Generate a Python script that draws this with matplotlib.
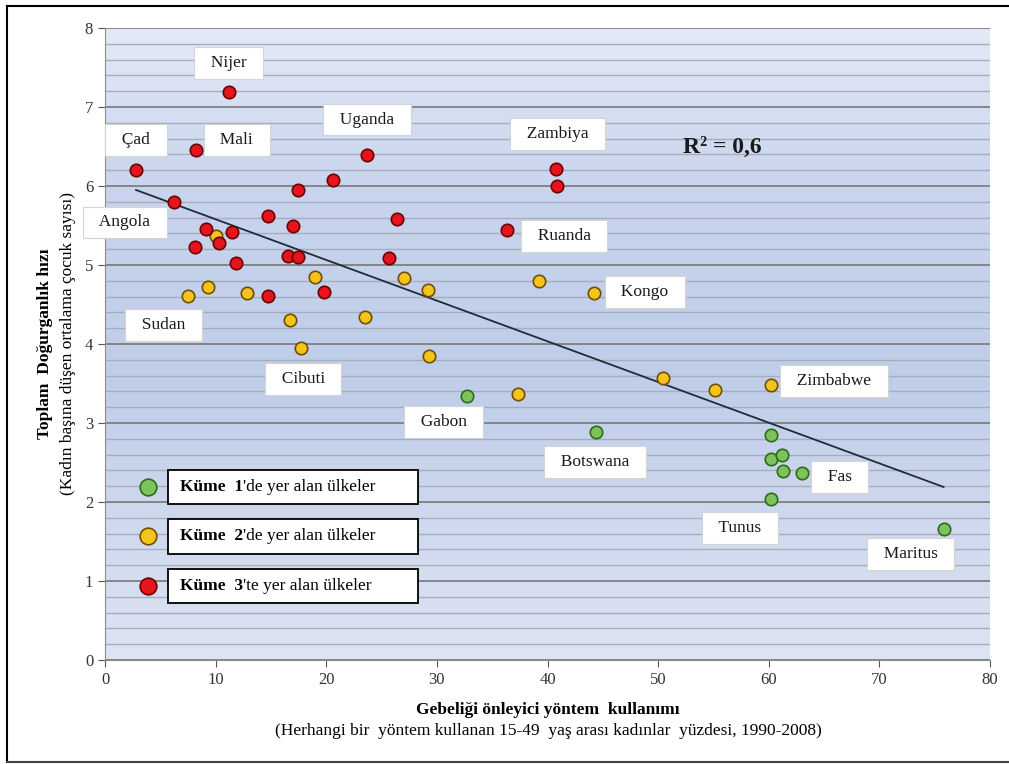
import numpy as np
import matplotlib.pyplot as plt
from matplotlib.colors import LinearSegmentedColormap
from matplotlib.patches import Rectangle
from matplotlib.lines import Line2D

plt.rcParams['font.family'] = ['Liberation Serif', 'DejaVu Serif']

# contraceptive use (%) and total fertility rate, per cluster
kume1_x = [32.7, 44.4, 60.2, 60.2, 61.2, 61.3, 63.0, 60.2, 75.8]
kume1_y = [3.34, 2.89, 2.85, 2.54, 2.59, 2.39, 2.37, 2.04, 1.66]

kume2_x = [7.5, 9.3, 10.0, 12.8, 16.7, 17.7, 19.0, 23.5, 27.0, 29.2, 29.3,
           37.3, 39.2, 44.2, 50.4, 55.1, 60.2]
kume2_y = [4.61, 4.72, 5.37, 4.65, 4.30, 3.95, 4.85, 4.34, 4.84, 4.68, 3.85,
           3.37, 4.80, 4.65, 3.57, 3.42, 3.48]

kume3_x = [2.8, 6.2, 8.2, 11.2, 8.1, 9.1, 10.3, 11.5, 11.8, 14.7, 14.7, 16.5,
           17.0, 17.4, 17.4, 19.8, 20.6, 23.7, 25.7, 26.4, 36.3, 40.8, 40.9]
kume3_y = [6.20, 5.80, 6.46, 7.19, 5.23, 5.46, 5.28, 5.42, 5.03, 4.61, 5.62, 5.11,
           5.49, 5.95, 5.10, 4.66, 6.08, 6.39, 5.09, 5.58, 5.44, 6.22, 6.00]

countries = ['Nijer', 'Çad', 'Mali', 'Uganda', 'Zambiya', 'Angola', 'Ruanda',
             'Kongo', 'Sudan', 'Cibuti', 'Gabon', 'Botswana', 'Zimbabwe',
             'Fas', 'Tunus', 'Maritus']
legend_labels = ["1'de yer alan ülkeler", "2'de yer alan ülkeler", "3'te yer alan ülkeler"]
r2_text = 'R² = 0,6'

# where each country name box sits
label_pos = [(11.2, 7.56), (2.8, 6.58), (11.9, 6.58), (23.7, 6.84), (40.9, 6.66),
             (1.8, 5.54), (41.5, 5.37), (48.8, 4.66), (5.3, 4.24), (17.9, 3.56),
             (30.6, 3.01), (44.3, 2.51), (65.9, 3.53), (66.4, 2.32), (57.4, 1.67),
             (72.8, 1.34)]

styles = [('#7dc35b', '#2f6a1c'), ('#f6c21c', '#6e5000'), ('#e4151d', '#6e0000')]

fig = plt.figure(figsize=(10.09, 7.64), dpi=100)
ax = fig.add_axes([0.1041, 0.1361, 0.8771, 0.8273])

# vertical blue gradient behind the plot
grad = LinearSegmentedColormap.from_list(
    'bg', [(0.0, '#dde4f3'), (0.45, '#bfcde9'), (0.75, '#c9d5ee'), (1.0, '#e3e9f6')])
ax.imshow(np.linspace(0, 1, 256).reshape(-1, 1), cmap=grad, aspect='auto',
          extent=(0, 80, 0, 8), origin='lower', zorder=0)

ax.set_xlim(0, 80)
ax.set_ylim(0, 8)
ax.set_xticks(range(0, 81, 10))
ax.set_yticks(range(0, 9))
ax.set_yticks(np.arange(0, 8.01, 0.2), minor=True)
ax.tick_params(axis='y', which='minor', length=0)
ax.tick_params(axis='both', which='major', labelsize=12, colors='#555555',
               labelcolor='#333333', length=5, direction='out')
ax.grid(True, axis='y', which='minor', color='#a7aebb', lw=1.0, zorder=1)
ax.grid(True, axis='y', which='major', color='#7f7f7f', lw=1.3, zorder=1)
for side in ['top', 'right']:
    ax.spines[side].set_visible(False)
for side in ['left', 'bottom']:
    ax.spines[side].set_color('#8c8c8c')

# regression line over all countries
all_x = np.array(kume1_x + kume2_x + kume3_x)
all_y = np.array(kume1_y + kume2_y + kume3_y)
slope, icpt = np.polyfit(all_x, all_y, 1)
xs = np.array([all_x.min(), all_x.max()])
ax.plot(xs, slope * xs + icpt, color='#1f2a3a', lw=1.3, zorder=3)

for (xv, yv), (fc, ec) in zip([(kume1_x, kume1_y), (kume2_x, kume2_y), (kume3_x, kume3_y)], styles):
    ax.scatter(xv, yv, s=80, c=fc, edgecolors=ec, linewidths=1.2, zorder=4)

for name, (lx, ly) in zip(countries, label_pos):
    ax.text(lx, ly, f'  {name}  ', ha='center', va='center', fontsize=12.5, color='#1a1a1a',
            zorder=5, bbox=dict(boxstyle='square,pad=0.45', fc='white', ec='#d4d4d4', lw=0.8))

ax.text(55.8, 6.49, r2_text, ha='center', va='center', fontsize=17,
        fontweight='bold', color='#1a1a1a', zorder=5)

# cluster legend: marker plus framed caption
for i, ((fc, ec), lab) in enumerate(zip(styles, legend_labels)):
    yc = 0.274 - i * 0.0785
    ax.add_line(Line2D([0.0486], [yc], transform=ax.transAxes, marker='o', ms=12,
                       mfc=fc, mec=ec, mew=1.2, zorder=6))
    ax.add_patch(Rectangle((0.071, yc - 0.027), 0.283, 0.054, transform=ax.transAxes,
                           fc='white', ec='black', lw=1.3, zorder=6))
    t = ax.text(0.085, yc, f'Küme  {i + 1}', transform=ax.transAxes, ha='left',
                va='center', fontsize=12.5, fontweight='bold', zorder=7)
    ax.annotate(lab[1:], xy=(1, 0), xycoords=t, xytext=(0, 0), textcoords='offset points',
                ha='left', va='bottom', fontsize=12.5, zorder=7)

fig.text(0.0446, 0.55, 'Toplam  Doğurganlık hızı', rotation=90, ha='center',
         va='center', fontsize=12.5, fontweight='bold')
fig.text(0.0674, 0.55, '(Kadın başına düşen ortalama çocuk sayısı)', rotation=90,
         ha='center', va='center', fontsize=12.5)
fig.text(0.543, 0.071, 'Gebeliği önleyici yöntem  kullanımı', ha='center',
         va='center', fontsize=12.5, fontweight='bold')
fig.text(0.543, 0.043, '(Herhangi bir  yöntem kullanan 15-49  yaş arası kadınlar  yüzdesi, 1990-2008)',
         ha='center', va='center', fontsize=12.5)

# frame around the whole figure
fig.add_artist(Line2D([0.007, 1.0], [0.992, 0.992], color='black', lw=1.5))
fig.add_artist(Line2D([0.007, 0.007], [0.992, 0.002], color='black', lw=1.5))
fig.add_artist(Line2D([0.007, 1.0], [0.002, 0.002], color='#444444', lw=1.5))

fig.savefig('out.png', dpi=100)
